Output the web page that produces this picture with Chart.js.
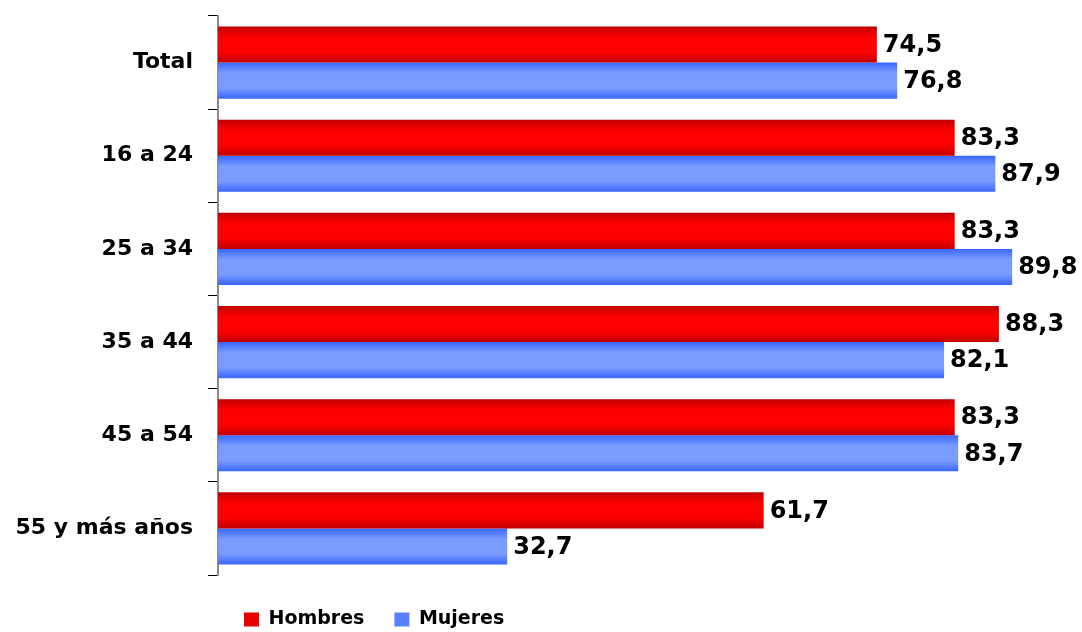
<!DOCTYPE html>
<html>
<head>
<meta charset="utf-8">
<script src="https://cdn.jsdelivr.net/npm/chart.js@4.4.0/dist/chart.umd.min.js"></script>
<style>
  html, body { margin: 0; padding: 0; background: #fff; }
  #wrap { width: 1082px; height: 632px; }
</style>
</head>
<body>
<div id="wrap"><canvas id="chart"></canvas></div>
<script>
// Data
const categories = ['Total', '16 a 24', '25 a 34', '35 a 44', '45 a 54', '55 y más años'];
const hombres = [74.5, 83.3, 83.3, 88.3, 83.3, 61.7];
const mujeres = [76.8, 87.9, 89.8, 82.1, 83.7, 32.7];
const seriesNames = ['Hombres', 'Mujeres'];

const FONT = '"DejaVu Sans", sans-serif';
const GROUP_PCT = 0.774;

// edge / middle colours of the shaded bars
const shades = [
    { edge: '#c00000', mid: '#ff0000', flat: '#e60000' },
    { edge: '#3a66ff', mid: '#7b9cff', flat: '#5a80ff' }
];

// vertical gradient for each bar, worked out from the y scale
function barFill(c, dsIndex) {
    const s = shades[dsIndex];
    const yScale = c.chart.scales && c.chart.scales.y;
    if (c.dataIndex === undefined || !yScale || yScale.top === undefined) return s.flat;
    const catH = (yScale.bottom - yScale.top) / categories.length;
    const barH = catH * GROUP_PCT / 2;
    const center = yScale.getPixelForValue(c.dataIndex);
    const top = dsIndex === 0 ? center - barH : center;
    const g = c.chart.ctx.createLinearGradient(0, top, 0, top + barH);
    g.addColorStop(0, s.edge);
    g.addColorStop(0.3, s.mid);
    g.addColorStop(0.7, s.mid);
    g.addColorStop(1, s.edge);
    return g;
}

// value labels at the end of every bar
const valueLabels = {
    id: 'valueLabels',
    afterDatasetsDraw(chart) {
        const ctx = chart.ctx;
        ctx.save();
        ctx.font = 'bold 24px ' + FONT;
        ctx.fillStyle = '#000';
        ctx.textAlign = 'left';
        ctx.textBaseline = 'middle';
        chart.data.datasets.forEach((ds, i) => {
            chart.getDatasetMeta(i).data.forEach((bar, j) => {
                const txt = ds.data[j].toFixed(1).replace('.', ',');
                ctx.fillText(txt, bar.x + 6, bar.y + 1);
            });
        });
        ctx.restore();
    }
};

// the legend sits left of centre in the reference
const legendShift = {
    id: 'legendShift',
    afterLayout(chart) {
        const lg = chart.legend;
        const w = lg.width;
        lg.left = 244 - 30;
        lg.right = lg.left + w;
        lg.top = 580;
        lg.bottom = lg.top + 57;
    }
};

new Chart(document.getElementById('chart'), {
    type: 'bar',
    data: {
        labels: categories,
        datasets: [
            { label: seriesNames[0], data: hombres, backgroundColor: c => barFill(c, 0), borderWidth: 0 },
            { label: seriesNames[1], data: mujeres, backgroundColor: c => barFill(c, 1), borderWidth: 0 }
        ]
    },
    options: {
        indexAxis: 'y',
        responsive: true,
        maintainAspectRatio: false,
        animation: false,
        categoryPercentage: GROUP_PCT,
        barPercentage: 1,
        layout: { padding: { top: 16, right: 15, left: 0, bottom: 0 } },
        scales: {
            x: {
                display: false,
                min: 0,
                max: 96
            },
            y: {
                afterFit(scale) {
                    scale.width = 218;
                    scale.paddingTop = 0;
                    scale.paddingBottom = 0;
                },
                border: { display: true, color: '#8c8c8c', width: 2 },
                grid: {
                    offset: true,
                    drawOnChartArea: false,
                    drawTicks: true,
                    tickLength: 10,
                    color: '#000',
                    lineWidth: 1
                },
                ticks: {
                    padding: 15,
                    color: '#000',
                    font: { family: FONT, size: 22, weight: 'bold' }
                }
            }
        },
        plugins: {
            tooltip: { enabled: false },
            legend: {
                position: 'bottom',
                align: 'start',
                maxHeight: 57,
                labels: {
                    boxWidth: 15,
                    boxHeight: 14,
                    padding: 30,
                    color: '#000',
                    font: { family: FONT, size: 19, weight: 'bold' },
                    generateLabels() {
                        return seriesNames.map((n, i) => ({
                            text: n,
                            fillStyle: shades[i].flat,
                            strokeStyle: shades[i].flat,
                            lineWidth: 0,
                            datasetIndex: i
                        }));
                    }
                }
            }
        }
    },
    plugins: [valueLabels, legendShift]
});
</script>
</body>
</html>
